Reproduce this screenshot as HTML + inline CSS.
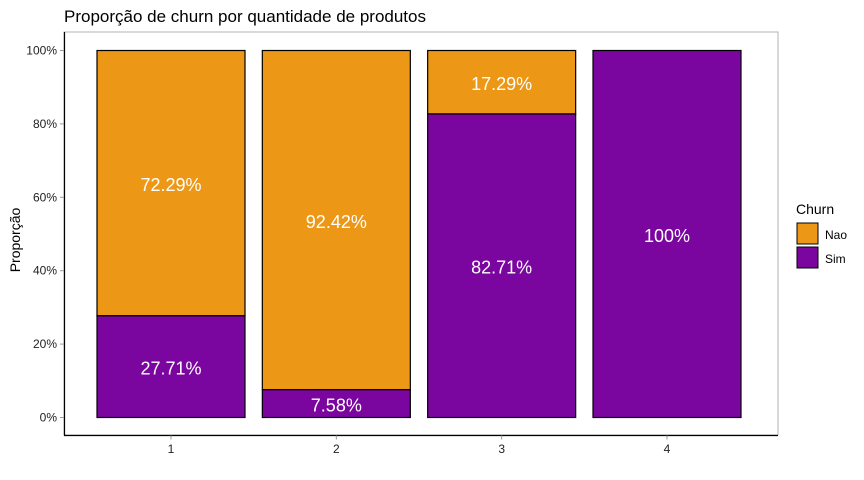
<!DOCTYPE html>
<html><head><meta charset="utf-8"><style>body{margin:0;background:#fff}svg{display:block;font-family:"Liberation Sans",Arial,sans-serif}</style></head>
<body>
<svg id="chart" width="864" height="480">
<text x="64" y="22" font-size="17" fill="#000">Proporção de churn por quantidade de produtos</text>
<rect x="64" y="32" width="714" height="403" fill="none" stroke="#b3b3b3" stroke-width="1"/>
<g id="bars"></g>
<line x1="64.5" y1="32" x2="64.5" y2="435.5" stroke="#000" stroke-width="1.2"/>
<line x1="64" y1="435.5" x2="778" y2="435.5" stroke="#000" stroke-width="1.2"/>
<g id="yticks"></g><g id="xticks"></g>
<text transform="translate(20,240) rotate(-90)" text-anchor="middle" font-size="14" fill="#000">Proporção</text>
<g>
<text x="796" y="214" font-size="14">Churn</text>
<g><rect x="797" y="223" width="21" height="21" fill="#ec9715" stroke="#000"/><text x="825" y="239" font-size="12">Nao</text></g>
<g><rect x="797" y="247" width="21" height="21" fill="#7a059f" stroke="#000"/><text x="825" y="263" font-size="12">Sim</text></g>
</g>
</svg>
<script>
const categories=["1","2","3","4"];
const simValues=[27.71,7.58,82.71,100];
const naoValues=[72.29,92.42,17.29,0];
const yTicks=[0,20,40,60,80,100];
const NS="http://www.w3.org/2000/svg";
const y0=417.5,y100=50.5,xL=64,xR=778;
const y=v=>y0-(y0-y100)*v/100;
const xC=i=>171+(667-171)/(categories.length-1)*i;
const bw=148;
function mk(tag,attrs,parent){const e=document.createElementNS(NS,tag);for(const k in attrs)e.setAttribute(k,attrs[k]);parent.appendChild(e);return e;}
const gb=document.getElementById('bars');
categories.forEach((c,i)=>{
  const s=simValues[i],n=naoValues[i];
  if(n>0){const r=mk('rect',{x:xC(i)-bw/2,y:y(s+n),width:bw,height:y(s)-y(s+n),fill:'#ec9715',stroke:'#000','stroke-width':1.2},gb);
  
  
  const t=mk('text',{x:xC(i),y:y(s+n/2)+8,'text-anchor':'middle','font-size':18,fill:'#fff'},gb);t.textContent=n+'%';
  
  }
  const r2=mk('rect',{x:xC(i)-bw/2,y:y(s),width:bw,height:y0-y(s),fill:'#7a059f',stroke:'#000','stroke-width':1.2},gb);
  
  
  const t2=mk('text',{x:xC(i),y:y(s/2)+8,'text-anchor':'middle','font-size':18,fill:'#fff'},gb);t2.textContent=s+'%';
  
  
});
const gy=document.getElementById('yticks');
yTicks.forEach(v=>{mk('line',{x1:60,x2:64,y1:y(v),y2:y(v),stroke:'#999'},gy);
  const t=mk('text',{x:57,y:y(v)+4,'text-anchor':'end','font-size':12,fill:'#222'},gy);t.textContent=v+'%';
  
  });
const gx=document.getElementById('xticks');
categories.forEach((c,i)=>{mk('line',{x1:xC(i),x2:xC(i),y1:435.5,y2:439.5,stroke:'#999'},gx);
  const t=mk('text',{x:xC(i),y:453,'text-anchor':'middle','font-size':12,fill:'#222'},gx);t.textContent=c;
  
  });
</script>
</body></html>
